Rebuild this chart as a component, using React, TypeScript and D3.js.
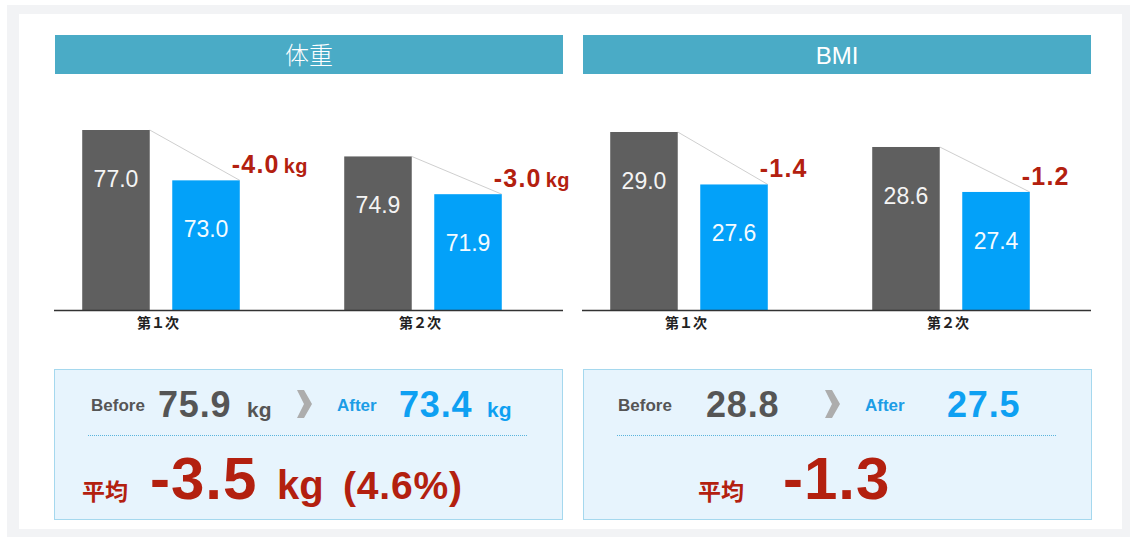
import React from "react";
import * as d3 from "d3";

// 回次
const rounds = ["第１次", "第２次"];

// 体重 (kg)
const weightBefore = [77.0, 74.9];
const weightAfter = [73.0, 71.9];

// BMI
const bmiBefore = [29.0, 28.6];
const bmiAfter = [27.6, 27.4];

const panelTitles = ["体重", "BMI"];
const panelUnits = ["kg", ""];

// 平均のまとめ
const avgBefore = [75.9, 28.8];
const avgAfter = [73.4, 27.5];
const avgChange = [-3.5, -1.3];
const avgChangePct = ["4.6%", ""];

// 縦軸の下限（棒の基準値）
const yFloor = [62.7, 24.25];

const W = 1130;
const H = 537;
const baseY = 310;
const LATIN = "'Liberation Sans', Arial, Helvetica, sans-serif";
const CJK = "'Noto Sans CJK JP', 'Noto Sans CJK SC', sans-serif";
const RED = "#b3200f";
const GRAY_BAR = "#5f5f5f";
const BLUE_BAR = "#03a1f9";

// パネル毎のレイアウト
const panels = [
  {
    off: 0,
    topY: 130,
    boxX: 54,
    row: { bl: 37, bv: 104, bu: 193, ch: 243, al: 283, av: 345, au: 433, ml: 28, mv: 96, mu: 223, mp: 289 },
  },
  {
    off: 528,
    topY: 132,
    boxX: 583,
    row: { bl: 35, bv: 123, bu: 0, ch: 242, al: 282, av: 364, au: 0, ml: 115, mv: 200, mu: 0, mp: 0 },
  },
];

const Panel = ({ idx }: { idx: number }) => {
  const p = panels[idx];
  const before = idx === 0 ? weightBefore : bmiBefore;
  const after = idx === 0 ? weightAfter : bmiAfter;
  const unit = panelUnits[idx];

  const x0 = d3.scaleBand<string>().domain(rounds).range([30 + p.off, 554 + p.off]);
  const x1 = d3
    .scaleBand<string>()
    .domain(["before", "after"])
    .range([0, x0.bandwidth()])
    .paddingInner(0.25)
    .paddingOuter(0.58);
  const y = d3
    .scaleLinear()
    .domain([yFloor[idx], d3.max(before) as number])
    .range([baseY, p.topY]);

  const bw = x1.bandwidth();
  const r = p.row;
  const bx = p.boxX;

  return (
    <g>
      {/* 見出し */}
      <rect x={55 + p.off} y={35} width={508} height={39} fill="#4aabc6" />
      <text
        x={309 + p.off}
        y={64}
        textAnchor="middle"
        fill="#fff"
        fontSize={24}
        fontWeight={300}
        fontFamily={idx === 0 ? CJK : LATIN}
      >
        {panelTitles[idx]}
      </text>

      {/* 棒グラフ */}
      {rounds.map((rd, i) => {
        const gx = x0(rd) as number;
        const bX = gx + (x1("before") as number);
        const aX = gx + (x1("after") as number);
        const bTop = y(before[i]);
        const aTop = y(after[i]);
        const diff = (after[i] - before[i]).toFixed(1);
        return (
          <g key={rd}>
            <line x1={bX + bw} y1={bTop} x2={aX + bw} y2={aTop} stroke="#cfcfcf" strokeWidth={1} />
            <rect x={bX} y={bTop} width={bw} height={baseY - bTop} fill={GRAY_BAR} />
            <rect x={aX} y={aTop} width={bw} height={baseY - aTop} fill={BLUE_BAR} />
            <text x={bX + bw / 2} y={bTop + 57} textAnchor="middle" fill="#f4f4f4" fontSize={23} fontFamily={LATIN}>
              {before[i].toFixed(1)}
            </text>
            <text x={aX + bw / 2} y={aTop + 57} textAnchor="middle" fill="#f4fbff" fontSize={23} fontFamily={LATIN}>
              {after[i].toFixed(1)}
            </text>
            <text x={aX + bw - 8} y={aTop - 7} fill={RED} fontFamily={LATIN} fontWeight="bold">
              <tspan fontSize={25} letterSpacing={1.2}>{diff}</tspan>
              {unit && (
                <tspan fontSize={20} dx={4} letterSpacing={0.5}>
                  {unit}
                </tspan>
              )}
            </text>
            <text
              x={gx + x0.bandwidth() / 2 - 3}
              y={328}
              textAnchor="middle"
              fill="#222"
              fontSize={14}
              fontWeight="bold"
              fontFamily={CJK}
            >
              {rd}
            </text>
          </g>
        );
      })}
      <line x1={54 + p.off} x2={563 + p.off} y1={baseY + 0.5} y2={baseY + 0.5} stroke="#333" strokeWidth={1.5} />

      {/* まとめ */}
      <rect x={bx + 0.5} y={369.5} width={508} height={150} fill="#e7f4fd" stroke="#a5d8ee" strokeWidth={1} />
      <text x={bx + r.bl} y={411} fill="#555" fontSize={17} fontWeight="bold" fontFamily={LATIN}>
        Before
      </text>
      <text x={bx + r.bv} y={417} fill="#555" fontSize={36} fontWeight="bold" fontFamily={LATIN} letterSpacing={0.8}>
        {avgBefore[idx].toFixed(1)}
      </text>
      {unit && (
        <text x={bx + r.bu} y={417} fill="#555" fontSize={21} fontWeight="bold" fontFamily={LATIN}>
          {unit}
        </text>
      )}
      <path
        d={`M${bx + r.ch},${390} L${bx + r.ch + 7},${390} L${bx + r.ch + 15},${404} L${bx + r.ch + 7},${418} L${bx + r.ch},${418} L${bx + r.ch + 7},${404} Z`}
        fill="#adadad"
      />
      <text x={bx + r.al} y={411} fill="#1c9de6" fontSize={17} fontWeight="bold" fontFamily={LATIN}>
        After
      </text>
      <text x={bx + r.av} y={417} fill="#0ea0f2" fontSize={36} fontWeight="bold" fontFamily={LATIN} letterSpacing={0.8}>
        {avgAfter[idx].toFixed(1)}
      </text>
      {unit && (
        <text x={bx + r.au} y={417} fill="#0ea0f2" fontSize={21} fontWeight="bold" fontFamily={LATIN}>
          {unit}
        </text>
      )}
      <line
        x1={bx + 34}
        x2={bx + 474}
        y1={435.5}
        y2={435.5}
        stroke="#5ab4dc"
        strokeWidth={1}
        strokeDasharray="1,1"
      />
      <text x={bx + r.ml} y={500} fill={RED} fontSize={23} fontWeight="bold" fontFamily={CJK}>
        平均
      </text>
      <text x={bx + r.mv} y={499} fill={RED} fontSize={60} fontWeight="bold" fontFamily={LATIN} letterSpacing={1}>
        {avgChange[idx].toFixed(1)}
      </text>
      {unit && (
        <text x={bx + r.mu} y={499} fill={RED} fontSize={40} fontWeight="bold" fontFamily={LATIN}>
          {unit}
        </text>
      )}
      {avgChangePct[idx] && (
        <text x={bx + r.mp} y={499} fill={RED} fontSize={39} fontWeight="bold" fontFamily={LATIN} letterSpacing={0.8}>
          ({avgChangePct[idx]})
        </text>
      )}
    </g>
  );
};

export default function App() {
  return (
    <svg
      width={W}
      height={H}
      style={{ position: "absolute", left: 0, top: 0, display: "block" }}
    >
      <rect x={0} y={0} width={W} height={H} fill="#fff" />
      <rect x={7} y={5} width={W - 7} height={H - 5} fill="#f2f3f5" />
      <rect x={19} y={14} width={1103} height={515} fill="#fff" />
      <Panel idx={0} />
      <Panel idx={1} />
    </svg>
  );
}
